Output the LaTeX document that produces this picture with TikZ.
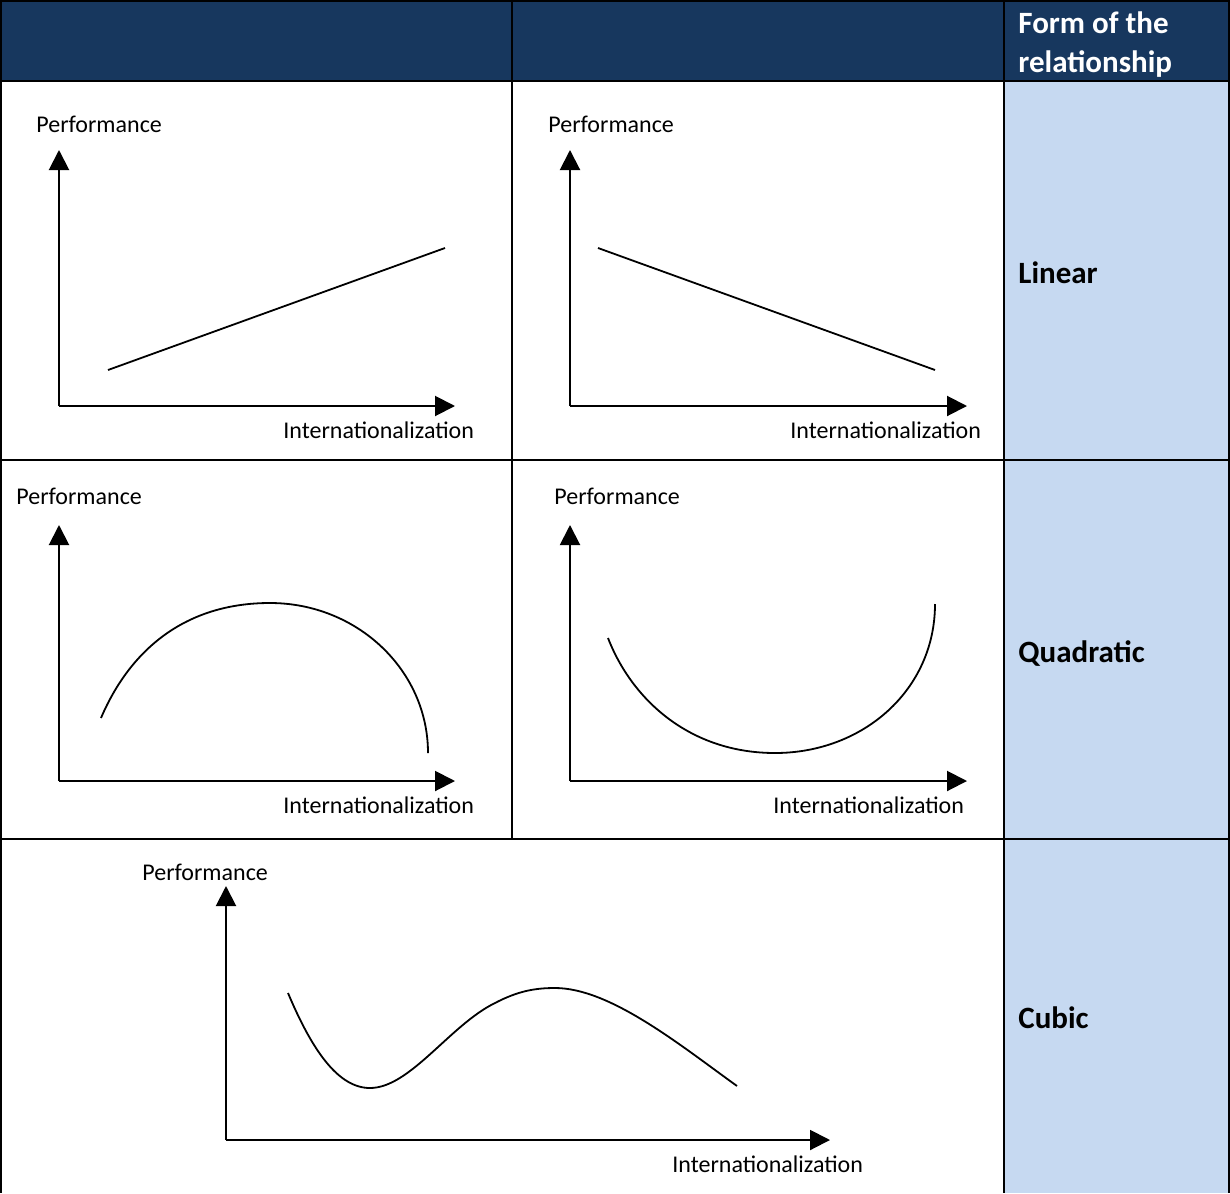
\documentclass[tikz,border=0pt]{standalone}
\usepackage{fontspec}
\setmainfont{Carlito}
\usepackage{tikz}
\usetikzlibrary{arrows.meta}
\definecolor{headfill}{HTML}{17375E}
\definecolor{formfill}{HTML}{C6D9F1}

\begin{document}
\begin{tikzpicture}[
  x=0.5pt, y=-0.5pt,
  grid/.style={line width=1pt, black},
  axis/.style={-{Triangle[length=10pt,width=10pt]}, line width=1pt},
  curve/.style={line width=0.9pt},
  lab/.style={anchor=base west, inner sep=0pt, font=\fontsize{12}{14}\selectfont},
  form/.style={anchor=base west, inner sep=0pt, font=\bfseries\fontsize{15.5}{19.5}\selectfont}
]
  \useasboundingbox (0,0) rectangle (1230,1193);

  % table
  \fill[headfill] (0,0) rectangle (1230,81);
  \fill[formfill] (1004,81) rectangle (1230,1193);
  \foreach \yy in {1,81,460,839}
    \draw[grid] (0,\yy) -- (1230,\yy);
  \foreach \xx in {1,1004,1229}
    \draw[grid] (\xx,0) -- (\xx,1193);
  \draw[grid] (512,0) -- (512,839);

  % header and forms
  \node[form, text=white, align=left] (head) at (1018,72.5) {Form of the\\relationship};
  \node[form] (linear) at (1018,283) {Linear};
  \node[form] (quad) at (1018,662) {Quadratic};
  \node[form] (cubic) at (1018,1028) {Cubic};

  % linear, rising
  \coordinate (o1) at (59,406);
  \coordinate (y1) at (59,150);
  \coordinate (x1) at (455,406);
  \draw[axis] (o1) -- (y1);
  \draw[axis] (o1) -- (x1);
  \node[lab] (perf1) at (36,133) {Performance};
  \node[lab] (intl1) at (283,438) {Internationalization};
  \draw[curve] (108,370) -- (445,248);

  % linear, falling
  \coordinate (o2) at (570,406);
  \coordinate (y2) at (570,150);
  \coordinate (x2) at (967,406);
  \draw[axis] (o2) -- (y2);
  \draw[axis] (o2) -- (x2);
  \node[lab] (perf2) at (548,133) {Performance};
  \node[lab] (intl2) at (790,438) {Internationalization};
  \draw[curve] (598,248) -- (935,370);

  % inverted U
  \coordinate (o3) at (59,781);
  \coordinate (y3) at (59,525);
  \coordinate (x3) at (455,781);
  \draw[axis] (o3) -- (y3);
  \draw[axis] (o3) -- (x3);
  \node[lab] (perf3) at (16,504) {Performance};
  \node[lab] (intl3) at (283,813) {Internationalization};
  \draw[curve] (101,718) .. controls (130,650) and (185,603) .. (270,603)
    .. controls (357,603) and (428,670) .. (428,753);

  % U shape
  \coordinate (o4) at (570,781);
  \coordinate (y4) at (570,525);
  \coordinate (x4) at (967,781);
  \draw[axis] (o4) -- (y4);
  \draw[axis] (o4) -- (x4);
  \node[lab] (perf4) at (554,504) {Performance};
  \node[lab] (intl4) at (773,813) {Internationalization};
  \draw[curve] (608,638) .. controls (632,700) and (690,753) .. (775,753)
    .. controls (863,753) and (935,690) .. (935,604);

  % S shape
  \coordinate (o5) at (226,1140);
  \coordinate (y5) at (226,886);
  \coordinate (x5) at (830,1140);
  \draw[axis] (o5) -- (y5);
  \draw[axis] (o5) -- (x5);
  \node[lab] (perf5) at (142,880) {Performance};
  \node[lab] (intl5) at (672,1172) {Internationalization};
  \draw[curve] (288,993) .. controls (312,1050) and (338,1088) .. (370,1088)
    .. controls (410,1088) and (450,1025) .. (495,1003)
    .. controls (518,991) and (535,988) .. (555,988)
    .. controls (610,988) and (680,1045) .. (737,1086);
\end{tikzpicture}
\end{document}
